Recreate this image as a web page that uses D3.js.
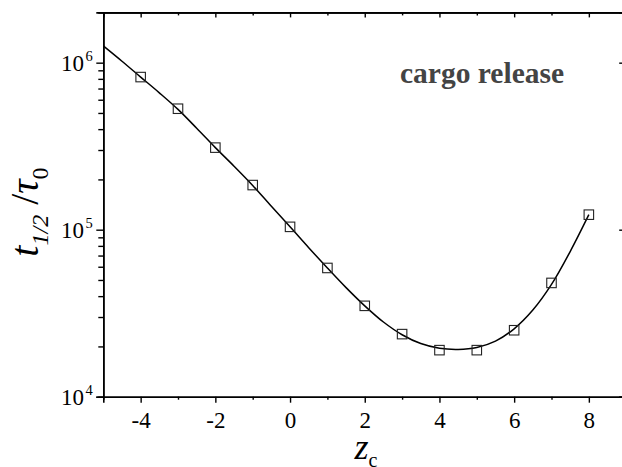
<!DOCTYPE html>
<html>
<head>
<meta charset="utf-8">
<script src="https://cdn.jsdelivr.net/npm/d3@7"></script>
<style>
  html, body { margin: 0; padding: 0; background: #fff; }
  svg { display: block; }
  text { font-family: "Liberation Serif", "Times New Roman", serif; }
</style>
</head>
<body>
<svg id="chart" width="622" height="467"></svg>
<script>
// ---- data ----
const zc = [-4, -3, -2, -1, 0, 1, 2, 3, 4, 5, 6, 7, 8];
const tHalf = [8.2e5, 5.3e5, 3.1e5, 1.85e5, 1.04e5, 5.9e4, 3.5e4, 2.37e4, 1.9e4, 1.9e4, 2.5e4, 4.8e4, 1.23e5];
const fitZ = [-5, -4.5, -4, -3.5, -3, -2.5, -2, -1.5, -1, -0.5, 0, 0.5, 1, 1.5, 2, 2.5, 3, 3.5, 4, 4.5, 5, 5.5, 6, 6.5, 7, 7.5, 8];
const fitT = [1.26e6, 1.02e6, 8.2e5, 6.6e5, 5.25e5, 4.05e5, 3.1e5, 2.4e5, 1.84e5, 1.38e5, 1.04e5, 7.8e4, 5.9e4, 4.5e4, 3.5e4, 2.8e4, 2.35e4, 2.08e4, 1.95e4, 1.92e4, 1.97e4, 2.15e4, 2.55e4, 3.3e4, 4.7e4, 7.4e4, 1.23e5];
const xMajor = [-4, -2, 0, 2, 4, 6, 8];
const xMinor = [-3, -1, 1, 3, 5, 7];
const yMajor = [1e4, 1e5, 1e6];
const yExp = ["4", "5", "6"];
const yMinor = [2e4,3e4,4e4,5e4,6e4,7e4,8e4,9e4,2e5,3e5,4e5,5e5,6e5,7e5,8e5,9e5];
const annotation = "cargo release";

// ---- layout ----
const L = 103.3, R = 626.2, T = 12.4, B = 396.7;
const svg = d3.select("#chart");
const x = d3.scaleLinear().domain([-5, 9]).range([L, R]);
const y = d3.scaleLog().domain([1e4, 2e6]).range([B, T]);
const axisW = 1.6;

// bottom axis (outward ticks)
const gB = svg.append("g").attr("transform", `translate(0,${B})`);
gB.call(d3.axisBottom(x).tickValues(xMajor).tickSize(6).tickFormat(d => d < 0 ? "-" + Math.abs(d) : d).tickPadding(9));
gB.append("g").call(d3.axisBottom(x).tickValues(xMinor).tickSize(3).tickFormat(""));
// top axis (inward ticks)
const gT = svg.append("g").attr("transform", `translate(0,${T})`);
gT.call(d3.axisTop(x).tickValues(xMajor).tickSize(-5).tickFormat(""));
gT.append("g").call(d3.axisTop(x).tickValues(xMinor).tickSize(-3).tickFormat(""));
// left axis (outward ticks)
const gL = svg.append("g").attr("transform", `translate(${L},0)`);
gL.call(d3.axisLeft(y).tickValues(yMajor).tickSize(7).tickFormat(""));
gL.append("g").call(d3.axisLeft(y).tickValues(yMinor).tickSize(5).tickFormat(""));
// right axis (inward ticks)
const gR = svg.append("g").attr("transform", `translate(${R},0)`);
gR.call(d3.axisRight(y).tickValues(yMajor).tickSize(-7).tickFormat(""));
gR.append("g").call(d3.axisRight(y).tickValues(yMinor).tickSize(-4).tickFormat(""));

svg.selectAll(".domain").attr("stroke", "#000").attr("stroke-width", axisW);
svg.selectAll(".tick line").attr("stroke", "#000").attr("stroke-width", 1.4);
gB.selectAll(".tick text").attr("font-size", 23).attr("fill", "#000")
  .attr("font-family", '"Liberation Serif", serif');

// y tick labels with superscripts
const yl = svg.append("g");
yMajor.forEach((v, i) => {
  yl.append("text")
    .attr("x", 84).attr("y", y(v) + 8.5)
    .attr("text-anchor", "end")
    .attr("font-size", 23).attr("fill", "#000")
    .text("10");
  yl.append("text")
    .attr("x", 85.5).attr("y", y(v) - 2)
    .attr("font-size", 14.5).attr("fill", "#000")
    .text(yExp[i]);
});

// fitted curve
const line = d3.line().x((d, i) => x(fitZ[i])).y((d, i) => y(fitT[i])).curve(d3.curveCatmullRom.alpha(0.5));
svg.append("path").datum(fitZ).attr("d", line)
  .attr("fill", "none").attr("stroke", "#000").attr("stroke-width", 1.5);

// square markers
const s = 9.5;
svg.append("g").selectAll("rect").data(zc).join("rect")
  .attr("x", (d) => x(d) - s / 2)
  .attr("y", (d, i) => y(tHalf[i]) - s / 2)
  .attr("width", s).attr("height", s)
  .attr("fill", "none").attr("stroke", "#222").attr("stroke-width", 1.1);

// annotation
svg.append("text").attr("x", 400).attr("y", 83)
  .attr("font-size", 29.5).attr("font-weight", "bold").attr("fill", "#444")
  .text(annotation);

// y-axis title
const yt = svg.append("text")
  .attr("transform", `translate(38,212) rotate(-90)`)
  .attr("text-anchor", "middle").attr("fill", "#000");
yt.append("tspan").attr("font-size", 40).attr("font-style", "italic").text("t");
yt.append("tspan").attr("font-size", 24).attr("font-style", "italic").attr("dy", 10).text("1/2");
yt.append("tspan").attr("font-size", 40).attr("dy", -10).text(" /");
yt.append("tspan").attr("font-size", 40).attr("font-style", "italic").text("τ");
yt.append("tspan").attr("font-size", 24).attr("dy", 10).text("0");

// x-axis title
const xt = svg.append("text").attr("x", 366).attr("y", 459).attr("text-anchor", "middle").attr("fill", "#000");
xt.append("tspan").attr("font-size", 36).attr("font-style", "italic").text("z");
xt.append("tspan").attr("font-size", 20).attr("dy", 8).text("c");
</script>
</body>
</html>
